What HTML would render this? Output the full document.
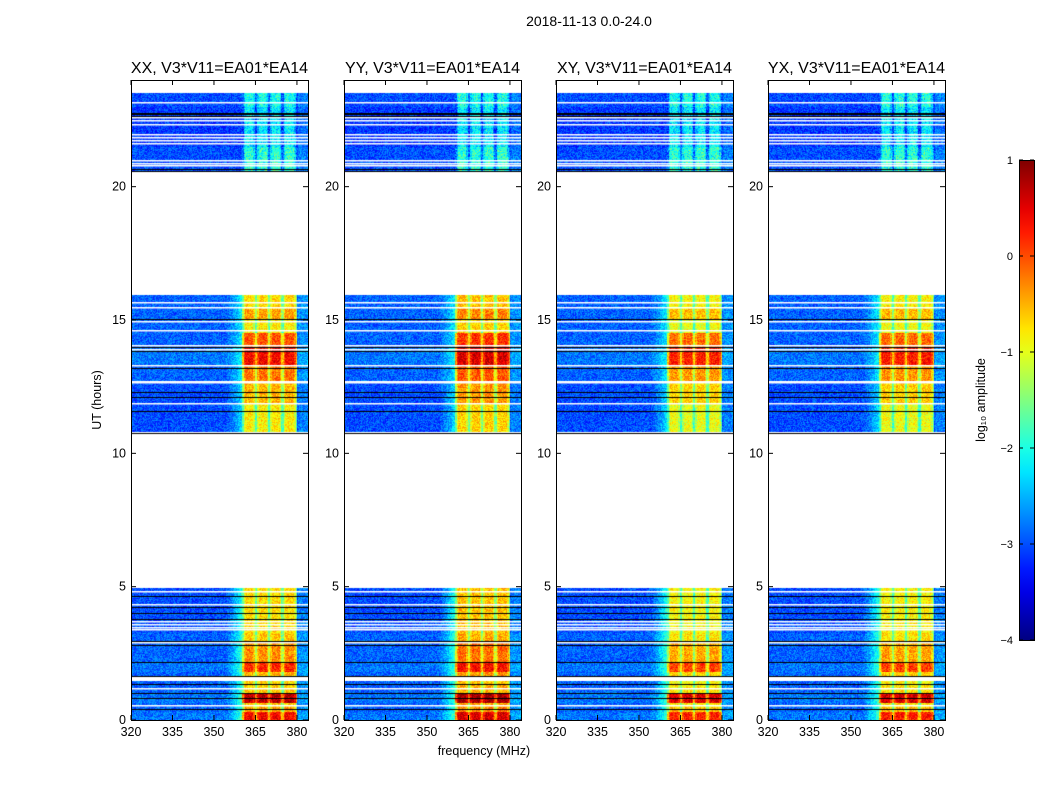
<!DOCTYPE html>
<html><head><meta charset="utf-8">
<style>
body{margin:0;background:#fff;width:1050px;height:800px;overflow:hidden;font-family:"Liberation Sans",sans-serif;}
#wrap{position:relative;width:1050px;height:800px;}
.t{position:absolute;color:#000;white-space:nowrap;}
canvas{position:absolute;}
</style></head><body>
<div id="wrap">
<div class="t" style="left:589px;top:13px;font-size:14px;transform:translateX(-50%);">2018-11-13 0.0-24.0</div>
<svg id="svg" width="1050" height="800" style="position:absolute;left:0;top:0;"></svg>
</div>
<script>
const panelTitles=["XX, V3*V11=EA01*EA14","YY, V3*V11=EA01*EA14","XY, V3*V11=EA01*EA14","YX, V3*V11=EA01*EA14"];
const panelOffset=[0,0.15,-0.15,-0.12];
const xTicks=[320,335,350,365,380];
const yTicks=[0,5,10,15,20];
const cbTicks=[1,0,-1,-2,-3,-4];
const segStart=[0,0.3,0.5,0.64,0.97,1.3, 1.65,1.8,2.13,2.9,3.26, 10.75,11.9,12.7,13.3,14.0,14.5,15.0,15.4, 20.6,21.5,23.0];
const segEnd=  [0.3,0.5,0.64,0.97,1.3,1.45, 1.8,2.13,2.9,3.26,4.95, 11.9,12.7,13.3,14.0,14.5,15.0,15.4,15.95, 21.5,23.0,23.5];
const segHi=   [0.4,-0.4,-0.6,0.7,-0.6,-0.7, -0.5,0.2,-0.3,-0.6,-0.7, -0.8,-0.5,-0.2,0.4,0.0,-0.8,-0.4,-0.7, -1.9,-2.2,-2.0];
const segLo=   [-2.8,-2.9,-2.9,-2.8,-2.9,-2.9, -2.9,-2.8,-2.9,-2.9,-3.0, -3.0,-3.0,-2.9,-2.8,-2.9,-2.9,-2.9,-2.9, -3.0,-3.1,-3.0];
const whiteLines=[0.55,1.2,4.85,4.35,3.7,3.6,3.5,3.4,2.93,15.67,15.5,14.98,14.64,14.08,13.93,13.3,12.73,12.68,11.87,10.8,23.16,22.6,22.5,22.36,21.98,21.87,21.76,21.65,21.0,20.9,20.8];
const blackLines=[0.4,0.82,1.0,1.35,1.66,2.17,2.83,2.96,3.78,4.03,4.22,4.65,10.75,11.6,12.1,12.3,13.2,13.85,14.0,15.02,20.6,20.65,22.66,22.72,22.78];
const hiStart=360.3, hiEnd=380, subGaps=[365.2,370,374.8];

const L=[131,344,556,768],T=80,W=177,H=640;
const xs=(f,i)=>L[i]+(f-320)/64*W;
const ys=h=>T+H-h/24*H;
function jet(v){
  const r=Math.min(Math.max(Math.min(4*v-1.5,-4*v+4.5),0),1);
  const g=Math.min(Math.max(Math.min(4*v-0.5,-4*v+3.5),0),1);
  const b=Math.min(Math.max(Math.min(4*v+0.5,-4*v+2.5),0),1);
  return [r*255,g*255,b*255];
}
const norm=l=>Math.min(Math.max((l+4)/5,0),1);
function hash(a,b){let h=(a*374761393+b*668265263)|0;h=(h^(h>>>13))*1274126177|0;return ((h^(h>>>16))>>>0)/4294967296;}
const wrap=document.getElementById('wrap');
const svg=document.getElementById('svg');
const NS="http://www.w3.org/2000/svg";
function sv(tag,attrs,name){const e=document.createElementNS(NS,tag);for(const k in attrs)e.setAttribute(k,attrs[k]);


svg.appendChild(e);return e;}
for(let p=0;p<4;p++){
  const cv=document.createElement('canvas');cv.width=W;cv.height=H;cv.style.left=L[p]+'px';cv.style.top=T+'px';
  
  
  wrap.insertBefore(cv,svg);
  const ctx=cv.getContext('2d');const img=ctx.createImageData(W,H);
  for(let y=0;y<H;y++){
    const h=(H-y-0.5)/H*24;
    let s=-1;for(let k=0;k<segStart.length;k++)if(h>=segStart[k]&&h<segEnd[k]){s=k;break;}
    for(let x=0;x<W;x++){
      const o=(y*W+x)*4;let c=[255,255,255];
      if(s>=0){
        const f=320+(x+0.5)/W*64;
        let lvl=segLo[s]+(f>380.5?0.25:0);
        const hiBand=s>=19?segHi[s]:segHi[s]+panelOffset[p];
        if(f>=hiStart&&f<hiEnd){
          let d=1e9;for(const g of subGaps)d=Math.min(d,Math.abs(f-g));
          d=Math.min(d,f-hiStart,hiEnd-f);
          lvl=hiBand-(d<0.4?0.9:d<1.0?0.3:0);
          if(s>=19)lvl+=(hash(x*7+p,y*3)-0.5)*0.6;
        } else if(f>350&&f<hiStart&&s<19&&h<16){
          const t=(f-350)/(hiStart-350);lvl=lvl+Math.max(0,t*t*1.3-0.2)*(h<5?1:0.7);
        }
        lvl+=(hash(x+p*1000,y)-0.5)*0.7;
        c=jet(norm(lvl));
      }
      img.data[o]=c[0];img.data[o+1]=c[1];img.data[o+2]=c[2];img.data[o+3]=255;
    }
  }
  ctx.putImageData(img,0,0);
  ctx.fillStyle='#fff';for(const h of whiteLines)ctx.fillRect(0,Math.round(H-h/24*H),W,1.5);
  ctx.fillStyle='#000';for(const h of blackLines)ctx.fillRect(0,Math.round(H-h/24*H),W,1);
  sv('rect',{x:L[p]+0.5,y:T+0.5,width:W,height:H,fill:'none',stroke:'#000','stroke-width':1},'plot-frame-'+p);
  for(const v of xTicks){const x=xs(v,p);
    sv('line',{x1:x,x2:x,y1:T+H,y2:T+H-5,stroke:'#000'},'x-tick');
    sv('line',{x1:x,x2:x,y1:T,y2:T+5,stroke:'#000'},'x-tick-top');
    const t=sv('text',{x:x,y:T+H+16,'text-anchor':'middle','font-size':12.5,'font-family':'Liberation Sans'},'x-tick-label');t.textContent=v;}
  for(const v of yTicks){const y=ys(v);
    sv('line',{x1:L[p],x2:L[p]+5,y1:y,y2:y,stroke:'#000'},'y-tick');
    sv('line',{x1:L[p]+W,x2:L[p]+W-5,y1:y,y2:y,stroke:'#000'},'y-tick-right');
    const t=sv('text',{x:L[p]-5,y:y+4,'text-anchor':'end','font-size':12.5,'font-family':'Liberation Sans'},'y-tick-label');t.textContent=v;}
  const tt=sv('text',{x:L[p]+W/2,y:T-7,'text-anchor':'middle','font-size':16,'font-family':'Liberation Sans'},'panel-title');tt.textContent=panelTitles[p];
}
let t=sv('text',{x:484,y:755,'text-anchor':'middle','font-size':12.5,'font-family':'Liberation Sans'},'x-axis-title');t.textContent='frequency (MHz)';
t=sv('text',{x:101,y:400,'text-anchor':'middle','font-size':12.5,'font-family':'Liberation Sans',transform:'rotate(-90 101 400)'},'y-axis-title');t.textContent='UT (hours)';
const defs=sv('defs',{},'defs');
const lg=document.createElementNS(NS,'linearGradient');lg.setAttribute('id','jg');lg.setAttribute('x1','0');lg.setAttribute('y1','1');lg.setAttribute('x2','0');lg.setAttribute('y2','0');
for(let i=0;i<=20;i++){const st=document.createElementNS(NS,'stop');const c=jet(i/20);st.setAttribute('offset',i/20);st.setAttribute('stop-color',`rgb(${c.map(Math.round).join(',')})`);lg.appendChild(st);}
defs.appendChild(lg);
sv('rect',{x:1019.5,y:160.5,width:15,height:480,fill:'url(#jg)',stroke:'#000'},'colorbar');
for(const v of cbTicks){const y=160+(1-v)/5*480;
  sv('line',{x1:1019,x2:1023,y1:y,y2:y,stroke:'#000'},'colorbar-tick');
  sv('line',{x1:1034,x2:1030,y1:y,y2:y,stroke:'#000'},'colorbar-tick');
  const tx=sv('text',{x:1013,y:y+4,'text-anchor':'end','font-size':11,'font-family':'Liberation Sans'},'colorbar-tick-label');tx.textContent=v<0?'\u2212'+(-v):v;}
t=sv('text',{x:985,y:400,'text-anchor':'middle','font-size':12.5,'font-family':'Liberation Sans',transform:'rotate(-90 985 400)'},'colorbar-label');t.textContent='log₁₀ amplitude';
</script>
</body></html>
